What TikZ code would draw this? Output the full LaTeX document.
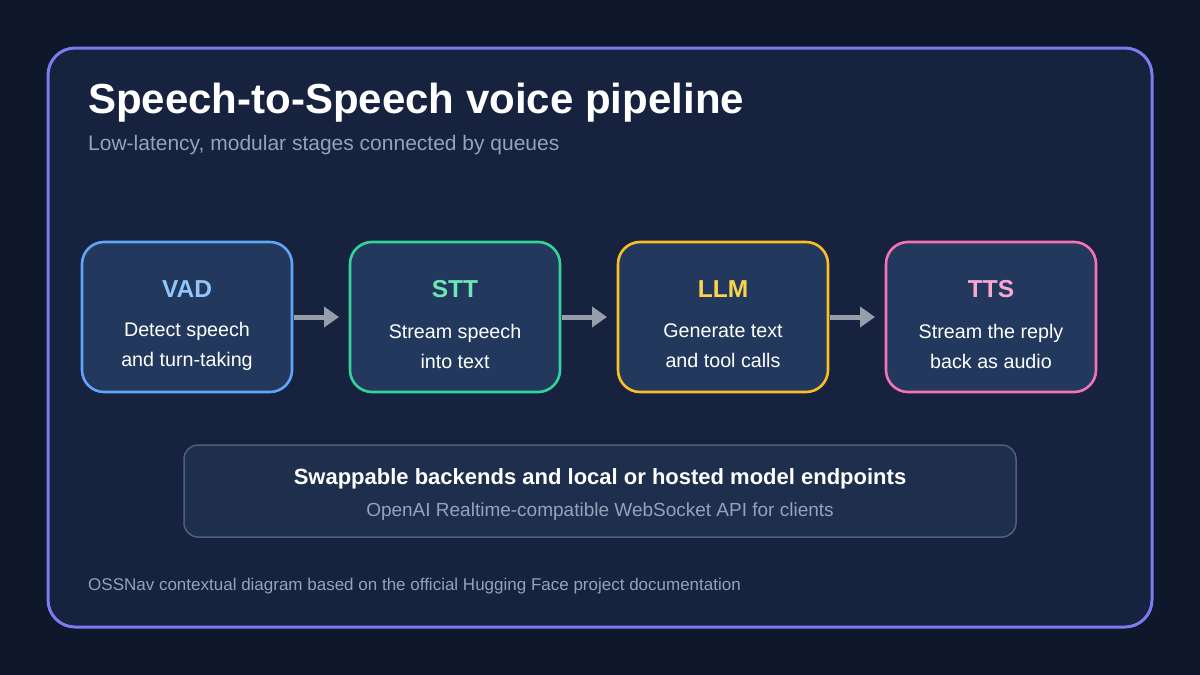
\documentclass[tikz,border=0pt]{standalone}
\usepackage{fontspec}
\setmainfont{Liberation Sans}
\usetikzlibrary{arrows.meta, positioning, calc}
\definecolor{pagebg}{RGB}{15,23,42}
\definecolor{panelbg}{RGB}{22,34,62}
\definecolor{panelline}{RGB}{124,124,238}
\definecolor{stagebg}{RGB}{34,57,93}
\definecolor{muted}{RGB}{148,163,184}
\definecolor{arrowgray}{RGB}{150,158,172}
\definecolor{vadline}{RGB}{96,165,250}
\definecolor{vadtext}{RGB}{147,197,253}
\definecolor{sttline}{RGB}{52,211,153}
\definecolor{stttext}{RGB}{110,231,183}
\definecolor{llmline}{RGB}{251,191,36}
\definecolor{llmtext}{RGB}{252,211,77}
\definecolor{ttsline}{RGB}{244,114,182}
\definecolor{ttstext}{RGB}{249,168,212}
\definecolor{notebg}{RGB}{30,47,78}
\definecolor{noteline}{RGB}{80,96,122}

\begin{document}
\begin{tikzpicture}[x=1pt, y=-1pt, node distance=58pt,
  st/.style={draw, line width=2.6pt, rounded corners=22pt, fill=stagebg,
             minimum width=210pt, minimum height=150pt, outer sep=0pt},
  tag/.style={anchor=base, inner sep=0pt, font=\fontsize{24.5}{24.5}\selectfont\bfseries},
  desc/.style={align=center, inner sep=0pt, text=white, font=\fontsize{19.7}{30}\selectfont},
  a/.style={-{Triangle[length=15pt, width=20pt]}, line width=5pt, draw=arrowgray,
            shorten <=1.5pt, shorten >=11pt}]
\useasboundingbox[fill=pagebg] (0,0) rectangle (1200,675);
\draw[panelline, line width=3pt, fill=panelbg, rounded corners=27pt] (48,48) rectangle (1152,627);
\node[anchor=base west, inner sep=0pt, text=white, font=\fontsize{42}{42}\selectfont\bfseries]
  (title) at (88,113) {Speech-to-Speech voice pipeline};
\node[anchor=base west, inner sep=0pt, text=muted, font=\fontsize{21}{21}\selectfont]
  (sub) at (88,150) {Low-latency, modular stages connected by queues};
% stages
\node[st, draw=vadline] (vad) at (187,317) {};
\node[st, draw=sttline, right=of vad] (stt) {};
\node[st, draw=llmline, right=of stt] (llm) {};
\node[st, draw=ttsline, right=of llm] (tts) {};
\node[tag, text=vadtext] (vadname) at ($(vad.north)+(0,55)$) {VAD};
\node[tag, text=stttext] (sttname) at ($(stt.north)+(0,55)$) {STT};
\node[tag, text=llmtext] (llmname) at ($(llm.north)+(0,55)$) {LLM};
\node[tag, text=ttstext] (ttsname) at ($(tts.north)+(0,55)$) {TTS};
\node[desc] (vaddesc) at ($(vad.center)+(0,29)$) {Detect speech\\and turn-taking};
\node[desc] (sttdesc) at ($(stt.center)+(0,29)$) {Stream speech\\into text};
\node[desc] (llmdesc) at ($(llm.center)+(0,29)$) {Generate text\\and tool calls};
\node[desc] (ttsdesc) at ($(tts.center)+(0,29)$) {Stream the reply\\back as audio};
\draw[a] (vad) -- (stt);
\draw[a] (stt) -- (llm);
\draw[a] (llm) -- (tts);
% backends note
\node[draw=noteline, line width=1.5pt, fill=notebg, rounded corners=14pt,
      minimum width=832pt, minimum height=92pt] (note) at (600,491) {};
\node[anchor=base, inner sep=0pt, text=white, font=\fontsize{22}{22}\selectfont\bfseries]
  (notehead) at (600,484) {Swappable backends and local or hosted model endpoints};
\node[anchor=base, inner sep=0pt, text=muted, font=\fontsize{19}{19}\selectfont]
  (notesub) at (600,516) {OpenAI Realtime-compatible WebSocket API for clients};
\node[anchor=base west, inner sep=0pt, text=muted, font=\fontsize{17}{17}\selectfont]
  (foot) at (88,590) {OSSNav contextual diagram based on the official Hugging Face project documentation};
\end{tikzpicture}
\end{document}
